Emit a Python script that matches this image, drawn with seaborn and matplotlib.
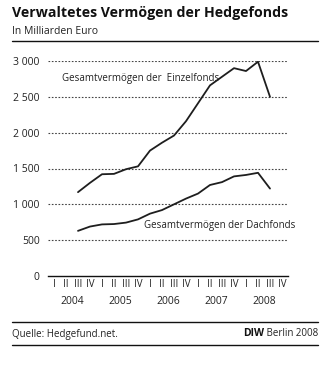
import matplotlib
matplotlib.use("Agg")
import matplotlib.pyplot as plt
import seaborn as sns
import pandas as pd
import numpy as np
from matplotlib.lines import Line2D

# Data (quarters, 2004 Q3 .. 2008 Q3)
quarters = ["2004Q3", "2004Q4",
            "2005Q1", "2005Q2", "2005Q3", "2005Q4",
            "2006Q1", "2006Q2", "2006Q3", "2006Q4",
            "2007Q1", "2007Q2", "2007Q3", "2007Q4",
            "2008Q1", "2008Q2", "2008Q3"]
einzelfonds = [1170, 1300, 1420, 1425, 1490, 1530, 1750, 1860, 1960, 2160,
               2410, 2660, 2780, 2900, 2860, 2990, 2500]
dachfonds = [630, 690, 720, 725, 745, 790, 870, 920, 1000, 1080,
             1150, 1270, 1310, 1390, 1410, 1440, 1220]
years = ["2004", "2005", "2006", "2007", "2008"]
quarter_labels = ["I", "II", "III", "IV"]
yticks = [0, 500, 1000, 1500, 2000, 2500, 3000]
ytick_labels = ["0", "500", "1 000", "1 500", "2 000", "2 500", "3 000"]

def q_index(q):
    y = int(q[:4]); n = int(q[-1])
    return (y - 2004) * 4 + (n - 1) + 0.5

df = pd.DataFrame({
    "x": [q_index(q) for q in quarters] * 2,
    "value": einzelfonds + dachfonds,
    "series": ["Einzelfonds"] * len(quarters) + ["Dachfonds"] * len(quarters),
})

sns.set_theme(style="white")
plt.rcParams["font.family"] = ["Open Sans", "DejaVu Sans"]

fig = plt.figure(figsize=(3.35, 3.65), dpi=100)
ax = fig.add_axes([48 / 335, 1 - 276 / 365, 240 / 335, 215 / 365])

sns.lineplot(data=df, x="x", y="value", hue="series",
             palette={"Einzelfonds": "#1e1e1e", "Dachfonds": "#1e1e1e"},
             linewidth=1.3, legend=False, ax=ax)

ax.set_xlim(0, 20)
ax.set_ylim(0, 3000)
ax.set_xlabel("")
ax.set_ylabel("")

for s in ["top", "right", "left"]:
    ax.spines[s].set_visible(False)
ax.spines["bottom"].set_color("#111111")
ax.spines["bottom"].set_linewidth(1.0)

# gridlines
for v in yticks[1:]:
    ax.axhline(v, color="#444444", linewidth=0.8, linestyle=(0, (1.5, 1.5)), zorder=0)

ax.set_yticks(yticks)
ax.set_yticklabels(ytick_labels)
ax.tick_params(axis="y", length=0, pad=6, labelsize=7.5, colors="#222222")

# x ticks
ax.set_xticks(np.arange(0, 21, 4))
ax.set_xticks(np.arange(0, 21, 1), minor=True)
ax.set_xticklabels([])
ax.tick_params(axis="x", which="major", length=11, width=0.9, direction="out", color="#111111")
ax.tick_params(axis="x", which="minor", length=4, width=0.8, direction="out", color="#111111")

trans = ax.get_xaxis_transform()
for yi, yr in enumerate(years):
    for qi, ql in enumerate(quarter_labels):
        ax.text(yi * 4 + qi + 0.5, -0.038, ql, transform=trans, ha="center", va="center",
                fontsize=7, color="#222222")
    ax.text(yi * 4 + 2, -0.12, yr, transform=trans, ha="center", va="center",
            fontsize=7.5, color="#222222")

# series labels
ax.text(1.17, 2750, "Gesamtvermögen der  Einzelfonds", fontsize=7, color="#222222",
        va="center", ha="left")
ax.text(8.0, 700, "Gesamtvermögen der Dachfonds", fontsize=7, color="#222222",
        va="center", ha="left")

# title block
fig.text(12 / 335, 1 - 13 / 365, "Verwaltetes Vermögen der Hedgefonds", fontsize=10.2,
         fontweight="bold", ha="left", va="center", color="#111111")
fig.text(12 / 335, 1 - 31 / 365, "In Milliarden Euro", fontsize=7.5, ha="left",
         va="center", color="#222222")
for yy in [41, 322, 345]:
    fig.add_artist(Line2D([12 / 335, 318 / 335], [1 - yy / 365, 1 - yy / 365],
                          color="#111111", linewidth=1.0, transform=fig.transFigure))

fig.text(12 / 335, 1 - 334 / 365, "Quelle: Hedgefund.net.", fontsize=7, ha="left",
         va="center", color="#222222")
t2 = fig.text(318 / 335, 1 - 334 / 365, " Berlin 2008", fontsize=7, ha="right",
              va="center", color="#222222")
fig.canvas.draw()
bb = t2.get_window_extent()
fig.text(bb.x0 / (3.35 * 100), 1 - 334 / 365, "DIW", fontsize=7.5, fontweight="bold",
         ha="right", va="center", color="#111111")

fig.savefig("out.png", dpi=100)
